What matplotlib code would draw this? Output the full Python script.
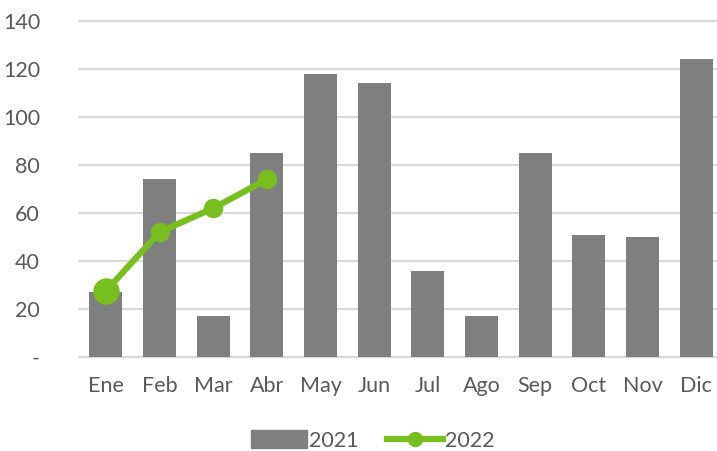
import matplotlib.pyplot as plt
import numpy as np
from matplotlib.lines import Line2D
from matplotlib.patches import Patch

meses = ['Ene', 'Feb', 'Mar', 'Abr', 'May', 'Jun', 'Jul', 'Ago', 'Sep', 'Oct', 'Nov', 'Dic']
ventas_2021 = [27, 74, 17, 85, 118, 114, 36, 17, 85, 51, 50, 124]
ventas_2022 = [27.5, 52, 62, 74]
yticks = [0, 20, 40, 60, 80, 100, 120, 140]
ylabels = ['-', '20', '40', '60', '80', '100', '120', '140']

gris = '#7f7f7f'
verde = '#78be20'
texto = '#595959'

plt.rcParams['font.family'] = ['Lato', 'DejaVu Sans']

fig = plt.figure(figsize=(7.17, 4.51), dpi=100)
ax = fig.add_axes([79 / 717, 94 / 451, 644 / 717, 336 / 451])

x = np.arange(len(meses))
ax.bar(x, ventas_2021, width=0.62, color=gris, label='2021', zorder=2)

x22 = np.arange(len(ventas_2022))
ax.plot(x22, ventas_2022, color=verde, lw=4.5, marker='o', ms=13, label='2022', zorder=3)
# el primer punto se ve mas grande
ax.plot(x22[:1], ventas_2022[:1], 'o', color=verde, ms=18, zorder=4)

ax.set_xlim(-0.5, len(meses) - 0.5)
ax.set_ylim(0, 140)
ax.set_yticks(yticks)
ax.set_yticklabels(ylabels)
ax.set_xticks(x)
ax.set_xticklabels(meses)
ax.grid(axis='y', color='#d9d9d9', lw=1.6, zorder=1)
for gl in ax.get_ygridlines():
    gl.set_clip_on(False)
for s in ax.spines.values():
    s.set_visible(False)
ax.tick_params(length=0, labelsize=15.5, colors=texto)
ax.tick_params(axis='y', pad=28)
ax.tick_params(axis='x', pad=14)

handles = [Patch(color=gris), Line2D([], [], color=verde, lw=4.5, marker='o', ms=10)]
leg = fig.legend(handles, ['2021', '2022'], loc='center', bbox_to_anchor=(0.52, 0.023), ncol=2,
                 frameon=False, fontsize=15.5, handlelength=2.6, handleheight=0.9,
                 handletextpad=0.1, columnspacing=1.3)
for t in leg.get_texts():
    t.set_color(texto)

fig.savefig('out.png', dpi=100)
